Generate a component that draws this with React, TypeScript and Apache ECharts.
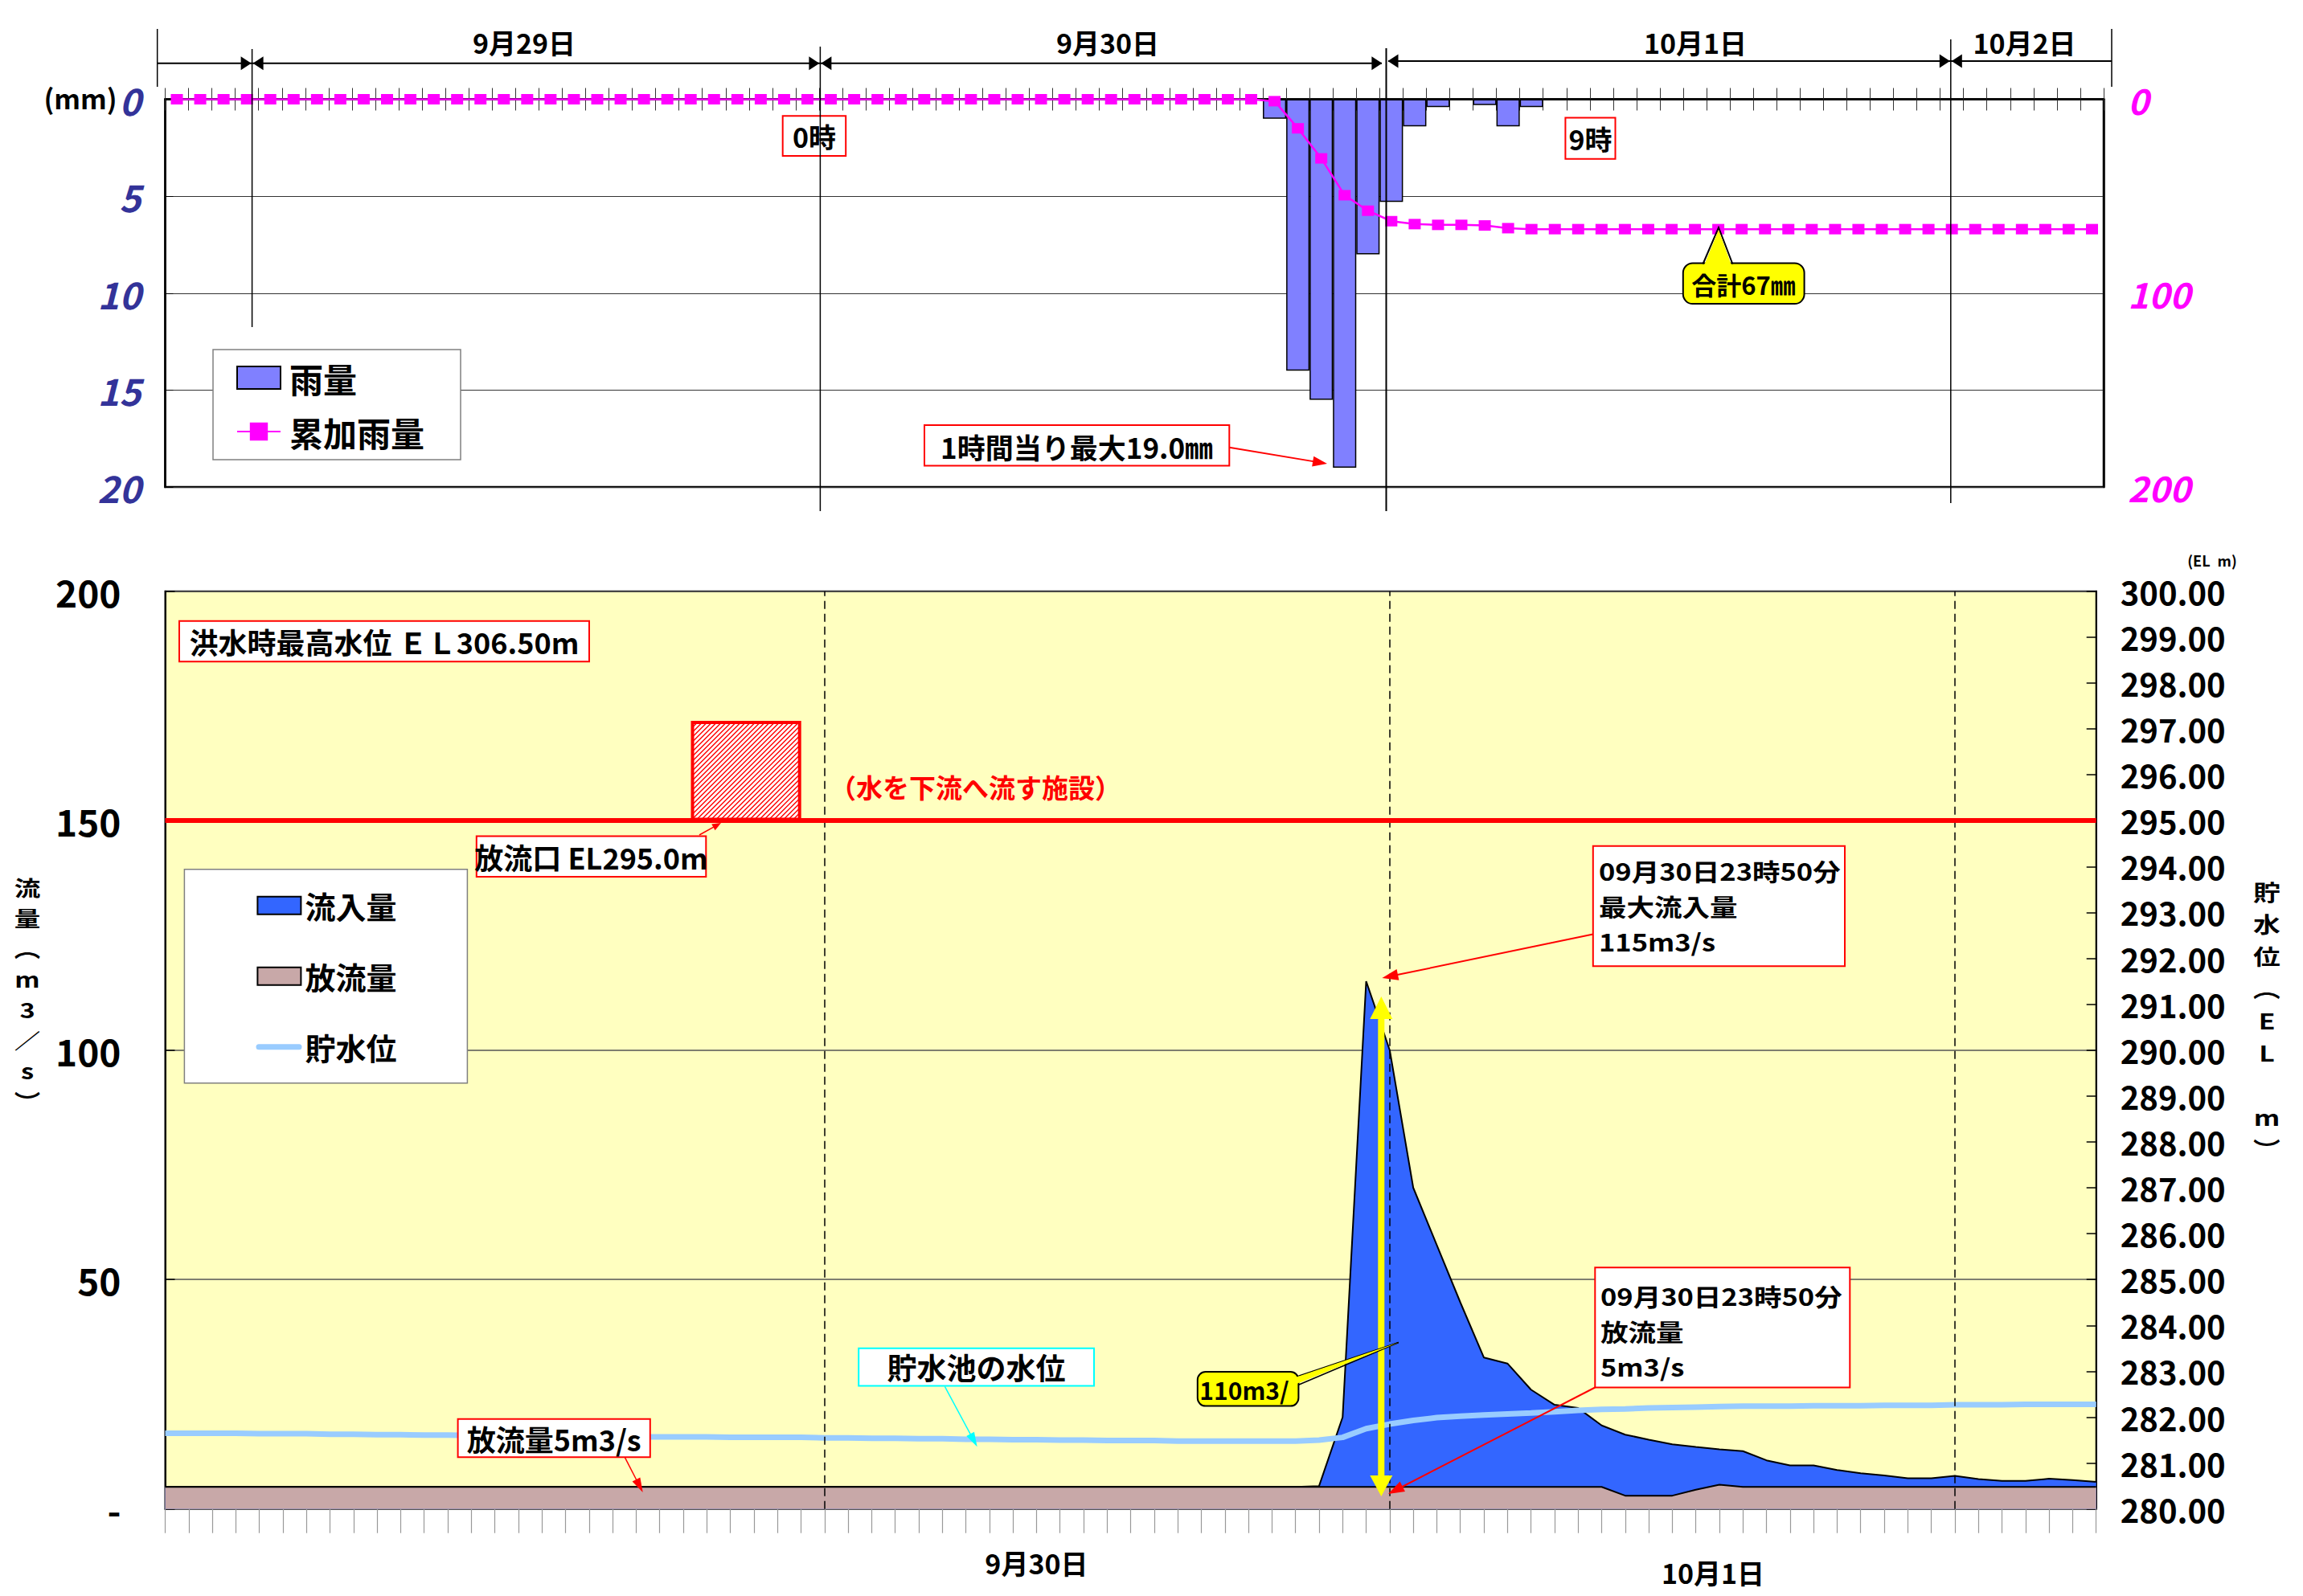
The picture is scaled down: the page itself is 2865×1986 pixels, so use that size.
import React, { useEffect, useRef } from 'react';
import * as echarts from 'echarts';

// ---------------- DATA ----------------
// hourly categories, 9/28 20時 .. 10/2 6時 (83 entries)
const HOURS = [
  '9/28 20時', '9/28 21時', '9/28 22時', '9/28 23時',
  '9/29 0時', '9/29 1時', '9/29 2時', '9/29 3時', '9/29 4時', '9/29 5時', '9/29 6時', '9/29 7時',
  '9/29 8時', '9/29 9時', '9/29 10時', '9/29 11時', '9/29 12時', '9/29 13時', '9/29 14時', '9/29 15時',
  '9/29 16時', '9/29 17時', '9/29 18時', '9/29 19時', '9/29 20時', '9/29 21時', '9/29 22時', '9/29 23時',
  '9/30 0時', '9/30 1時', '9/30 2時', '9/30 3時', '9/30 4時', '9/30 5時', '9/30 6時', '9/30 7時',
  '9/30 8時', '9/30 9時', '9/30 10時', '9/30 11時', '9/30 12時', '9/30 13時', '9/30 14時', '9/30 15時',
  '9/30 16時', '9/30 17時', '9/30 18時', '9/30 19時', '9/30 20時', '9/30 21時', '9/30 22時', '9/30 23時',
  '10/1 0時', '10/1 1時', '10/1 2時', '10/1 3時', '10/1 4時', '10/1 5時', '10/1 6時', '10/1 7時',
  '10/1 8時', '10/1 9時', '10/1 10時', '10/1 11時', '10/1 12時', '10/1 13時', '10/1 14時', '10/1 15時',
  '10/1 16時', '10/1 17時', '10/1 18時', '10/1 19時', '10/1 20時', '10/1 21時', '10/1 22時', '10/1 23時',
  '10/2 0時', '10/2 1時', '10/2 2時', '10/2 3時', '10/2 4時', '10/2 5時', '10/2 6時',
];

// 雨量 (mm/h)
const RAIN = [
  0, 0, 0, 0, 0, 0, 0, 0, 0, 0, 0, 0, 0, 0, 0, 0, 0, 0, 0, 0,
  0, 0, 0, 0, 0, 0, 0, 0, 0, 0, 0, 0, 0, 0, 0, 0, 0, 0, 0, 0,
  0, 0, 0, 0, 0, 0, 0,
  1, 14, 15.5, 19, 8, 5.3, 1.4, 0.4, 0, 0.3, 1.4, 0.4,
  0, 0, 0, 0, 0, 0, 0, 0, 0, 0, 0, 0, 0, 0, 0, 0, 0, 0, 0, 0, 0, 0, 0, 0,
];

// 累加雨量 (mm)
const CUM_RAIN = [
  0, 0, 0, 0, 0, 0, 0, 0, 0, 0, 0, 0, 0, 0, 0, 0, 0, 0, 0, 0,
  0, 0, 0, 0, 0, 0, 0, 0, 0, 0, 0, 0, 0, 0, 0, 0, 0, 0, 0, 0,
  0, 0, 0, 0, 0, 0, 0,
  1, 15, 30.5, 49.5, 57.5, 62.9, 64.4, 64.8, 64.8, 65.1, 66.5, 67,
  67, 67, 67, 67, 67, 67, 67, 67, 67, 67, 67, 67, 67, 67, 67, 67, 67, 67, 67, 67, 67, 67, 67, 67,
];

// 流入量 (m3/s)
const INFLOW = [
  4.8, 4.8, 4.8, 4.8, 4.8, 4.8, 4.8, 4.8, 4.8, 4.8, 4.8, 4.8, 4.8, 4.8, 4.8, 4.8, 4.8, 4.8, 4.8, 4.8,
  4.8, 4.8, 4.8, 4.8, 4.8, 4.8, 4.8, 4.8, 4.8, 4.8, 4.8, 4.8, 4.8, 4.8, 4.8, 4.8, 4.8, 4.8, 4.8, 4.8,
  4.8, 4.8, 4.8, 4.8, 4.8, 4.8, 4.8, 4.8, 4.8,
  5, 20, 115, 100, 70, 57.5, 45, 33, 31.7, 26, 22.7, 22, 18.2, 16.2, 15.1, 14.1, 13.5, 13, 12.6,
  10.6, 9.5, 9.5, 8.5, 7.8, 7.3, 6.7, 6.7, 7.2, 6.5, 6.1, 6.1, 6.6, 6.3, 5.9,
];

// 放流量 (m3/s)
const OUTFLOW = [
  4.8, 4.8, 4.8, 4.8, 4.8, 4.8, 4.8, 4.8, 4.8, 4.8, 4.8, 4.8, 4.8, 4.8, 4.8, 4.8, 4.8, 4.8, 4.8, 4.8,
  4.8, 4.8, 4.8, 4.8, 4.8, 4.8, 4.8, 4.8, 4.8, 4.8, 4.8, 4.8, 4.8, 4.8, 4.8, 4.8, 4.8, 4.8, 4.8, 4.8,
  4.8, 4.8, 4.8, 4.8, 4.8, 4.8, 4.8, 4.8, 4.8, 4.8, 4.8, 4.8, 4.8, 4.8, 4.8, 4.8, 4.8, 4.8, 4.8, 4.8,
  4.8, 4.8, 2.9, 2.9, 2.9, 4.2, 5.3, 4.8,
  4.8, 4.8, 4.8, 4.8, 4.8, 4.8, 4.8, 4.8, 4.8, 4.8, 4.8, 4.8, 4.8, 4.8, 4.8,
];

// 貯水位 (EL m)
const LEVEL = [
  281.65, 281.65, 281.65, 281.65, 281.64, 281.64, 281.64, 281.63, 281.63, 281.62,
  281.62, 281.61, 281.61, 281.6, 281.6, 281.59, 281.59, 281.58, 281.58, 281.58,
  281.57, 281.57, 281.57, 281.57, 281.56, 281.56, 281.56, 281.56, 281.55, 281.55,
  281.54, 281.54, 281.53, 281.53, 281.52, 281.52, 281.51, 281.51, 281.5, 281.5,
  281.49, 281.49, 281.49, 281.48, 281.48, 281.48, 281.48, 281.48, 281.48,
  281.5, 281.56, 281.75, 281.85, 281.93, 281.99, 282.02, 282.05, 282.07, 282.09,
  282.12, 282.15, 282.17, 282.18, 282.2, 282.21, 282.22, 282.23,
  282.24, 282.24, 282.24, 282.25, 282.25, 282.25, 282.26, 282.26, 282.26,
  282.27, 282.27, 282.27, 282.28, 282.28, 282.28, 282.28,
];

const OUTLET_EL = 295.0;
const TOP_DATE_LABELS = ['9月29日', '9月30日', '10月1日', '10月2日'];
const BOTTOM_DATE_LABELS: Record<number, string> = { 37: '9月30日', 66: '10月1日' };
const DAY_START_INDEX = [28, 52, 76];

// ---------------- STYLE ----------------
const FONT = '"Noto Sans CJK JP", "Noto Sans", sans-serif';
const NARROW = '"Liberation Sans Narrow", "Noto Sans CJK JP", sans-serif';
const RED = '#FF0000';

type Pt = [number, number];

function T(text: string, x: number, y: number, size: number, o: any = {}) {
  return {
    type: 'text', z: 120, silent: true, x, y, scaleX: o.sx || 1,
    style: {
      text, x: 0, y: 0, fontSize: size, fontWeight: 'bold', fontFamily: FONT,
      fill: o.fill || '#000',
      align: o.align || 'center', textAlign: o.align || 'center',
      verticalAlign: o.va || 'middle', textVerticalAlign: o.va || 'middle',
      lineHeight: o.lh,
    },
  };
}
function R(x: number, y: number, w: number, h: number, stroke: string, fill = '#fff', lw = 2, r = 0) {
  return { type: 'rect', z: 110, silent: true, shape: { x, y, width: w, height: h, r }, style: { fill, stroke, lineWidth: lw } };
}
function L(x1: number, y1: number, x2: number, y2: number, stroke = '#000', lw = 2, cap = 'butt') {
  return { type: 'line', z: 112, silent: true, shape: { x1, y1, x2, y2 }, style: { stroke, lineWidth: lw, lineCap: cap } };
}
function P(points: Pt[], fill: string, z = 113) {
  return { type: 'polygon', z, silent: true, shape: { points }, style: { fill } };
}
function PL(points: Pt[], stroke: string, lw = 2) {
  return { type: 'polyline', z: 114, silent: true, shape: { points }, style: { stroke, lineWidth: lw, fill: 'none' } };
}
function arrow(x1: number, y1: number, x2: number, y2: number, color: string, lw: number, hl: number, hw: number) {
  const dx = x2 - x1, dy = y2 - y1, d = Math.hypot(dx, dy), ux = dx / d, uy = dy / d;
  const bx = x2 - ux * hl, by = y2 - uy * hl;
  return [
    L(x1, y1, bx + ux * 2, by + uy * 2, color, lw),
    P([[x2, y2], [bx - uy * hw / 2, by + ux * hw / 2], [bx + uy * hw / 2, by - ux * hw / 2]], color),
  ];
}
// small filled arrowhead for the date bar
function head(tipX: number, y: number, dir: number) {
  const len = 13, hw = 8.5;
  return P([[tipX, y], [tipX - dir * len, y - hw], [tipX - dir * len, y + hw]], '#000');
}

function buildGraphic() {
  const g: any[] = [];
  // ----- top date bar -----
  const yA = 78.8, yB = 75.9;
  g.push(L(195.7, 36, 195.7, 108, '#000', 1.5), L(2627, 36, 2627, 108, '#000', 1.5));
  g.push(L(313.6, 61, 313.6, 407, '#000', 1.5));
  g.push(L(1020.4, 58, 1020.4, 636, '#000', 1.5));
  g.push(L(1724.5, 60, 1724.5, 636, '#000', 2));
  g.push(L(2426.8, 49, 2426.8, 626, '#000', 1.5));
  g.push(L(195.7, yA, 1719, yA, '#000', 2), L(1727, yB, 2627, yB, '#000', 2));
  g.push(head(312.6, yA, 1), head(314.6, yA, -1));
  g.push(head(1019.4, yA, 1), head(1021.4, yA, -1));
  g.push(head(1719.4, yA, 1), head(1726.5, yB, -1));
  g.push(head(2425.8, yB, 1), head(2427.8, yB, -1));
  const dateX = [652, 1378, 2109, 2518.5];
  TOP_DATE_LABELS.forEach((t, i) => g.push(T(t, dateX[i], 52, 34)));
  g.push(T('(mm)', 100, 121, 34));

  // ----- top annotations -----
  g.push(R(973.7, 144.3, 78.5, 49.7, RED), T('0時', 1013, 169.5, 34));
  g.push(R(1947.4, 146.4, 62.1, 51.4, RED), T('9時', 1978.5, 172, 34));
  g.push(R(1150, 529, 379.3, 50.6, RED), T('1時間当り最大19.0㎜', 1339.6, 555, 35));
  g.push(...arrow(1529.3, 556.8, 1651, 577, RED, 2, 18, 13));
  // 合計 callout
  g.push(R(2093.8, 327.5, 150.8, 50.6, '#000', '#FFFF00', 2, 12));
  g.push(P([[2120, 330], [2138, 286], [2154, 330]], '#FFFF00', 115));
  g.push(PL([[2118.5, 328.5], [2138, 283.2], [2155.4, 328.5]], '#000', 2));
  g.push(T('合計67㎜', 2169, 353, 31));

  // ----- bottom annotations -----
  g.push(R(223, 772.8, 510, 50.4, RED), T('洪水時最高水位 ＥＬ306.50m', 478, 798, 36));
  // outlet facility (hatched box)
  const rx0 = 861.5, ry0 = 899, rx1 = 994.7, ry1 = 1019.6;
  g.push(R(rx0, ry0, rx1 - rx0, ry1 - ry0, 'none', '#fff', 0));
  for (let c = rx0 + ry0 + 6; c < rx1 + ry1; c += 6) {
    const xa = Math.max(rx0, c - ry1), xb = Math.min(rx1, c - ry0);
    if (xb > xa) g.push(L(xa, c - xa, xb, c - xb, RED, 1.4));
  }
  g.push({ type: 'rect', z: 116, silent: true, shape: { x: rx0, y: ry0, width: rx1 - rx0, height: ry1 - ry0 }, style: { fill: 'none', stroke: RED, lineWidth: 4 } });
  g.push(T('（水を下流へ流す施設）', 1031.9, 979, 33, { align: 'left', fill: RED }));
  g.push(R(592.8, 1040.6, 285.5, 50.4, RED), T('放流口 EL295.0m', 735.5, 1066, 36));
  g.push(...arrow(870, 1039, 897, 1024, RED, 1.5, 11, 9));

  // legend line icon for 貯水位
  g.push(L(322, 1302.7, 372, 1302.7, '#99CCFF', 7, 'round'));

  // peak inflow box
  g.push(R(1981.8, 1052.7, 313.2, 149.5, RED));
  g.push(T('09月30日23時50分\n最大流入量\n115m3/s', 1989, 1061, 30, { align: 'left', va: 'top', lh: 44, sx: 1.15 }));
  g.push(...arrow(1981.8, 1162.5, 1719.4, 1217, RED, 2, 20, 14));
  // outflow box
  g.push(R(1984.3, 1577.2, 317, 149.3, RED));
  g.push(T('09月30日23時50分\n放流量\n5m3/s', 1991, 1589.7, 30, { align: 'left', va: 'top', lh: 44, sx: 1.15 }));
  g.push(...arrow(1984.3, 1726.5, 1727, 1859, RED, 2, 20, 14));
  // reservoir level label
  g.push(R(1068.2, 1677.8, 292.8, 46.6, '#00FFFF'), T('貯水池の水位', 1214.6, 1701, 37));
  g.push(...arrow(1175.4, 1725.3, 1215.6, 1800.3, '#00FFFF', 1.5, 18, 11));
  // outflow label
  g.push(R(569.6, 1765.8, 239.2, 47.5, RED), T('放流量5m3/s', 689.2, 1790, 36));
  g.push(...arrow(777.3, 1813.3, 799.7, 1857, RED, 1.5, 18, 11));

  // yellow double arrow (peak − outflow)
  const ax = 1718.3;
  g.push(L(ax, 1264, ax, 1840, '#FFFF00', 8));
  g.push(P([[ax, 1240], [ax - 14, 1268], [ax + 14, 1268]], '#FFFF00'));
  g.push(P([[ax, 1862], [ax - 14, 1836], [ax + 14, 1836]], '#FFFF00'));
  // 110 callout
  g.push(R(1489.8, 1707, 125.6, 42.6, '#000', '#FFFF00', 2, 10));
  g.push(P([[1613, 1713.5], [1739.8, 1670.5], [1613, 1722]], '#FFFF00', 115));
  g.push(L(1615.4, 1712.3, 1739.8, 1670.5, '#000', 1.5), L(1615.4, 1723.2, 1739.8, 1670.5, '#000', 1.5));
  g.push(T('110m3/', 1548, 1729, 30));

  // axis titles (stacked vertical text)
  g.push(T('流\n量\n︵\nm\n3\n／\ns\n︶', 34, 1085, 26, { va: 'top', lh: 38, sx: 1.25 }));
  g.push(T('貯\n水\n位\n︵\nE\nL\n\u3000\nm\n︶', 2820, 1089.5, 27, { va: 'top', lh: 40, sx: 1.25 }));
  g.push(T('(EL\u2002m)', 2752, 697, 18));
  return g;
}

export default function App() {
  const ref = useRef<HTMLDivElement>(null);
  useEffect(() => {
    if (!ref.current) return;
    const chart = echarts.init(ref.current, null, { renderer: 'svg' });
    const option: any = {
      animation: false,
      backgroundColor: '#fff',
      textStyle: { fontFamily: FONT },
      grid: [
        { left: 205.5, top: 123.5, width: 2411.5, height: 482.5, show: true, backgroundColor: '#fff', borderColor: '#000', borderWidth: 2.5, containLabel: false, outerBoundsMode: 'none' },
        { left: 205.5, top: 735.7, width: 2402.2, height: 1142, show: true, backgroundColor: '#FFFFC0', borderColor: '#000', borderWidth: 2, containLabel: false, outerBoundsMode: 'none' },
      ],
      legend: [
        {
          data: [{ name: '雨量', icon: 'rect' }, { name: '累加雨量' }],
          orient: 'vertical', left: 265, top: 435, padding: [14, 45, 14, 29], itemGap: 25,
          itemWidth: 54, itemHeight: 28, backgroundColor: '#fff', borderColor: '#808080', borderWidth: 1.5,
          selectedMode: false,
          textStyle: { fontSize: 42, fontWeight: 'bold', fontFamily: FONT, color: '#000', padding: [0, 0, 0, 6] },
        },
        {
          data: [
            { name: '流入量', icon: 'rect', itemStyle: { color: '#3366FF', borderColor: '#000', borderWidth: 2 } },
            { name: '放流量', icon: 'rect', itemStyle: { color: '#C8A8A8', borderColor: '#000', borderWidth: 2 } },
            { name: '貯水位', icon: 'path://M0,0 L54,0 L54,22 L0,22 Z', itemStyle: { color: 'rgba(0,0,0,0)', opacity: 0, borderWidth: 0 }, lineStyle: { color: '#99CCFF', width: 7, cap: 'round' } },
          ],
          orient: 'vertical', left: 229.4, top: 1081.7, padding: [26, 88, 26, 90], itemGap: 50,
          itemWidth: 54, itemHeight: 22, backgroundColor: '#fff', borderColor: '#808080', borderWidth: 1.5,
          selectedMode: false,
          textStyle: { fontSize: 38, fontWeight: 'bold', fontFamily: FONT, color: '#000' },
        },
      ],
      xAxis: [
        {
          gridIndex: 0, type: 'category', data: HOURS, position: 'top', boundaryGap: true,
          axisLine: { show: true, lineStyle: { color: '#000', width: 2.5 } },
          axisTick: { show: true, interval: 0, length: 14, lineStyle: { color: '#333', width: 1 } },
          axisLabel: { show: false }, splitLine: { show: false },
        },
        {
          gridIndex: 0, type: 'category', data: HOURS, position: 'top', boundaryGap: true,
          axisLine: { show: false },
          axisTick: { show: true, inside: true, interval: 0, length: 14, lineStyle: { color: '#333', width: 1 } },
          axisLabel: { show: false }, splitLine: { show: false },
        },
        {
          gridIndex: 1, type: 'category', data: HOURS, position: 'bottom', boundaryGap: false,
          axisLine: { show: true, lineStyle: { color: '#555', width: 2 } },
          axisTick: { show: true, interval: 0, length: 30, lineStyle: { color: '#999', width: 1.2 } },
          axisLabel: {
            show: true,
            interval: (i: number) => BOTTOM_DATE_LABELS[i] !== undefined,
            formatter: (_v: string, i: number) => (i === 37 ? '{a|' + BOTTOM_DATE_LABELS[i] + '}' : i === 66 ? '{b|' + BOTTOM_DATE_LABELS[i] + '}' : ''),
            margin: 50,
            rich: {
              a: { fontSize: 34, fontWeight: 'bold', fontFamily: FONT, color: '#000' },
              b: { fontSize: 34, fontWeight: 'bold', fontFamily: FONT, color: '#000', padding: [12, 16, 0, 0] },
            },
          },
          splitLine: { show: false },
        },
      ],
      yAxis: [
        {
          gridIndex: 0, type: 'value', min: 0, max: 20, interval: 5, inverse: true, position: 'left',
          axisLine: { show: true, lineStyle: { color: '#000', width: 2.5 } },
          axisTick: { show: true, inside: true, length: 10, lineStyle: { color: '#000' } },
          axisLabel: { color: '#333399', fontSize: 46, fontWeight: 'bold', fontStyle: 'italic', fontFamily: NARROW, margin: 30, showMinLabel: true, showMaxLabel: true },
          splitLine: { show: true, lineStyle: { color: '#333', width: 1 } },
        },
        {
          gridIndex: 0, type: 'value', min: 0, max: 200, interval: 100, inverse: true, position: 'right',
          axisLine: { show: true, lineStyle: { color: '#000', width: 2.5 } },
          axisTick: { show: false },
          axisLabel: { color: '#FF00FF', fontSize: 44, fontWeight: 'bold', fontStyle: 'italic', fontFamily: NARROW, margin: 30, showMinLabel: true, showMaxLabel: true },
          splitLine: { show: false },
        },
        {
          gridIndex: 1, type: 'value', min: 0, max: 200, interval: 50, position: 'left',
          axisLine: { show: true, lineStyle: { color: '#000', width: 2 } },
          axisTick: { show: true, inside: true, length: 12, lineStyle: { color: '#000', width: 1.5 } },
          axisLabel: { color: '#000', fontSize: 46, fontWeight: 'bold', fontFamily: NARROW, margin: 55, showMinLabel: true, showMaxLabel: true, formatter: (v: number) => (v === 0 ? '-' : String(v)) },
          splitLine: { show: true, lineStyle: { color: '#555', width: 1.5 } },
        },
        {
          gridIndex: 1, type: 'value', min: 280, max: 300, interval: 1, position: 'right',
          axisLine: { show: true, lineStyle: { color: '#000', width: 2 } },
          axisTick: { show: true, inside: true, length: 12, lineStyle: { color: '#000', width: 1.5 } },
          axisLabel: { color: '#000', fontSize: 40, fontWeight: 'bold', fontFamily: FONT, margin: 30, showMinLabel: true, showMaxLabel: true, formatter: (v: number) => v.toFixed(2) },
          splitLine: { show: false },
        },
      ],
      series: [
        {
          name: '雨量', type: 'bar', xAxisIndex: 0, yAxisIndex: 0, data: RAIN, barCategoryGap: '0%',
          itemStyle: { color: '#8080FF', borderColor: '#000', borderWidth: 1.5 }, z: 2,
        },
        {
          name: '累加雨量', type: 'line', xAxisIndex: 0, yAxisIndex: 1, data: CUM_RAIN,
          symbol: 'rect', symbolSize: [15, 13], showAllSymbol: true,
          itemStyle: { color: '#FF00FF' }, lineStyle: { color: '#FF00FF', width: 2.5 }, z: 3,
        },
        {
          name: '流入量', type: 'line', xAxisIndex: 2, yAxisIndex: 2, data: INFLOW, symbol: 'none',
          lineStyle: { color: '#000', width: 2 }, itemStyle: { color: '#3366FF' },
          areaStyle: { color: '#3366FF', opacity: 1 }, z: 2,
        },
        {
          name: '放流量', type: 'line', xAxisIndex: 2, yAxisIndex: 2, data: OUTFLOW, symbol: 'none',
          lineStyle: { color: '#000', width: 2 }, itemStyle: { color: '#C8A8A8' },
          areaStyle: { color: '#C8A8A8', opacity: 1 }, z: 3,
          markLine: {
            silent: true, symbol: 'none', label: { show: false },
            lineStyle: { color: '#000', width: 1.5, type: [10, 6] },
            data: DAY_START_INDEX.map((i) => ({ xAxis: i })),
          },
        },
        {
          name: '貯水位', type: 'line', xAxisIndex: 2, yAxisIndex: 3, data: LEVEL, symbol: 'none',
          lineStyle: { color: '#99CCFF', width: 7 }, itemStyle: { color: '#99CCFF' }, z: 4,
          markLine: {
            silent: true, symbol: 'none', label: { show: false },
            lineStyle: { color: RED, width: 6, type: 'solid' },
            data: [{ yAxis: OUTLET_EL }],
          },
        },
      ],
      graphic: buildGraphic(),
    };
    chart.setOption(option);
    return () => chart.dispose();
  }, []);
  return <div ref={ref} style={{ position: 'absolute', left: 0, top: 0, width: 2865, height: 1986, background: '#fff' }} />;
}
